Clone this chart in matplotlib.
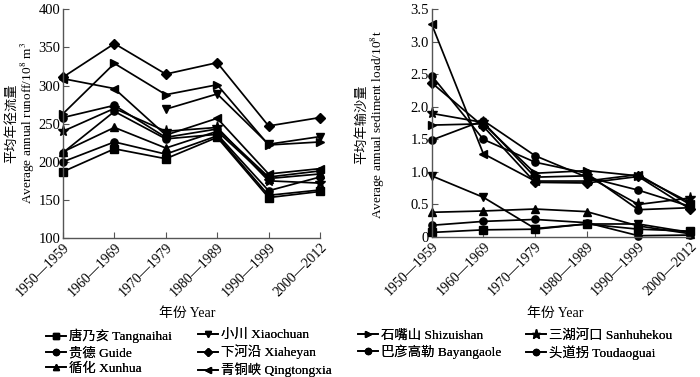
import numpy as np
import matplotlib
matplotlib.use("Agg")
import matplotlib.pyplot as plt

plt.rcParams['font.family'] = ['Liberation Serif', 'Noto Sans CJK SC']
plt.rcParams['mathtext.fontset'] = 'stix'

periods = ["1950—1959", "1960—1969", "1970—1979", "1980—1989", "1990—1999", "2000—2012"]

stations = ["唐乃亥 Tangnaihai", "贵德 Guide", "循化 Xunhua",
            "小川 Xiaochuan", "下河沿 Xiaheyan", "青铜峡 Qingtongxia",
            "石嘴山 Shizuishan", "巴彦高勒 Bayangaole",
            "三湖河口 Sanhuhekou", "头道拐 Toudaoguai"]
markers = ["s", "o", "^", "v", "D", "<", ">", "o", "*", "o"]

nan = np.nan
runoff_tangnaihai = [187, 217, 204, 232, 153, 161]
runoff_guide = [200, 226, 210, 234, 156, 163]
runoff_xunhua = [213, 245, 218, 240, 178, 184]
runoff_xiaochuan = [nan, nan, 269, 289, 223, 233]
runoff_xiaheyan = [311, 355, 315, 330, 247, 258]
runoff_qingtongxia = [309, 296, 235, 257, 184, 191]
runoff_shizuishan = [263, 329, 288, 301, 222, 226]
runoff_bayangaole = [258, 274, 232, 243, 180, 188]
runoff_sanhuhekou = [240, 270, 240, 245, 175, 172]
runoff_toudaoguai = [212, 266, 230, 236, 162, 180]

sed_tangnaihai = [0.07, 0.11, 0.12, 0.20, 0.12, 0.09]
sed_guide = [0.18, 0.24, 0.27, 0.22, 0.02, 0.03]
sed_xunhua = [0.38, 0.40, 0.43, 0.39, 0.17, 0.05]
sed_xiaochuan = [0.94, 0.61, 0.13, 0.20, 0.20, 0.07]
sed_xiaheyan = [2.37, 1.70, 0.84, 0.83, 0.93, 0.43]
sed_qingtongxia = [3.27, 1.28, 0.86, 0.86, 0.96, 0.50]
sed_shizuishan = [1.72, 1.74, 0.98, 1.02, 0.94, 0.53]
sed_bayangaole = [2.48, 1.50, 1.15, 0.98, 0.42, 0.45]
sed_sanhuhekou = [1.90, 1.76, 0.92, 0.94, 0.50, 0.60]
sed_toudaoguai = [1.49, 1.79, 1.25, 0.92, 0.72, 0.47]

runoff = [runoff_tangnaihai, runoff_guide, runoff_xunhua, runoff_xiaochuan,
          runoff_xiaheyan, runoff_qingtongxia, runoff_shizuishan,
          runoff_bayangaole, runoff_sanhuhekou, runoff_toudaoguai]
sediment = [sed_tangnaihai, sed_guide, sed_xunhua, sed_xiaochuan,
            sed_xiaheyan, sed_qingtongxia, sed_shizuishan,
            sed_bayangaole, sed_sanhuhekou, sed_toudaoguai]

W, H = 700, 377
fig = plt.figure(figsize=(7, 3.77), dpi=100)

def axpx(x0, x1, ytop, ybot):
    return fig.add_axes([x0 / W, 1 - ybot / H, (x1 - x0) / W, (ybot - ytop) / H])

ax1 = axpx(63, 320, 9.3, 238)
ax2 = axpx(431.7, 690, 9.3, 237)

x = np.arange(len(periods))
handles = []
for vals, m, lab in zip(runoff, markers, stations):
    ms = 8 if m == "*" else 5.2
    h, = ax1.plot(x, vals, color='black', lw=1.25, marker=m, ms=ms, label=lab)
    handles.append(h)
for vals, m in zip(sediment, markers):
    ms = 8 if m == "*" else 5.2
    ax2.plot(x, vals, color='black', lw=1.25, marker=m, ms=ms)

for ax in (ax1, ax2):
    ax.set_xlim(0, len(periods) - 1)
    ax.set_xticks(x)
    ax.set_xticklabels(periods, rotation=45, ha='right', rotation_mode='anchor', fontsize=10)
    for s in ('top', 'right'):
        ax.spines[s].set_visible(False)
    for s in ('left', 'bottom'):
        ax.spines[s].set_color('#555555')
        ax.spines[s].set_linewidth(1.0)
    ax.tick_params(direction='in', length=4, width=0.8, color='#555555', labelsize=10.5, pad=2)
    ax.tick_params(axis='x', labelsize=10)
    for ln in ax.lines:
        ln.set_clip_on(False)

ax1.set_ylim(100, 400)
ax1.set_yticks([100, 150, 200, 250, 300, 350, 400])
ax2.set_ylim(0, 3.5)
ax2.set_yticks([0, 0.5, 1.0, 1.5, 2.0, 2.5, 3.0, 3.5])
ax2.set_yticklabels(["0", "0.5", "1.0", "1.5", "2.0", "2.5", "3.0", "3.5"])

def ftext(px, py, s, **kw):
    fig.text(px / W, 1 - py / H, s, **kw)

ftext(12, 163, "平均年径流量", rotation=90, ha='center', va='bottom', fontsize=9.5,
      family=['Noto Sans CJK SC'])
ftext(28, 204, "Average annual runoff/10$^8$ m$^3$", rotation=90, ha='center', va='bottom', fontsize=9.5)
ftext(362, 164, "平均年输沙量", rotation=90, ha='center', va='bottom', fontsize=9.5,
      family=['Noto Sans CJK SC'])
ftext(378, 219, "Average annual sediment load/10$^8$t", rotation=90, ha='center', va='bottom', fontsize=9.5)

ftext(187, 313, "年份 Year", ha='center', va='center', fontsize=10)
ftext(555, 313, "年份 Year", ha='center', va='center', fontsize=10)

# legend: four columns placed at the reference positions
col_groups = [[0, 1, 2], [3, 4, 5], [6, 7], [8, 9]]
col_x = [46, 198, 358, 526]
for grp, cx in zip(col_groups, col_x):
    lg = fig.legend(handles=[handles[i] for i in grp], loc='upper left',
                    bbox_to_anchor=(cx / W, 1 - 329 / H), ncol=1, frameon=False,
                    fontsize=9.6, handlelength=1.5, handletextpad=0.2,
                    labelspacing=0.25, borderpad=0, borderaxespad=0, markerscale=0.85)
    fig.add_artist(lg)

fig.savefig("out.png", dpi=100)
